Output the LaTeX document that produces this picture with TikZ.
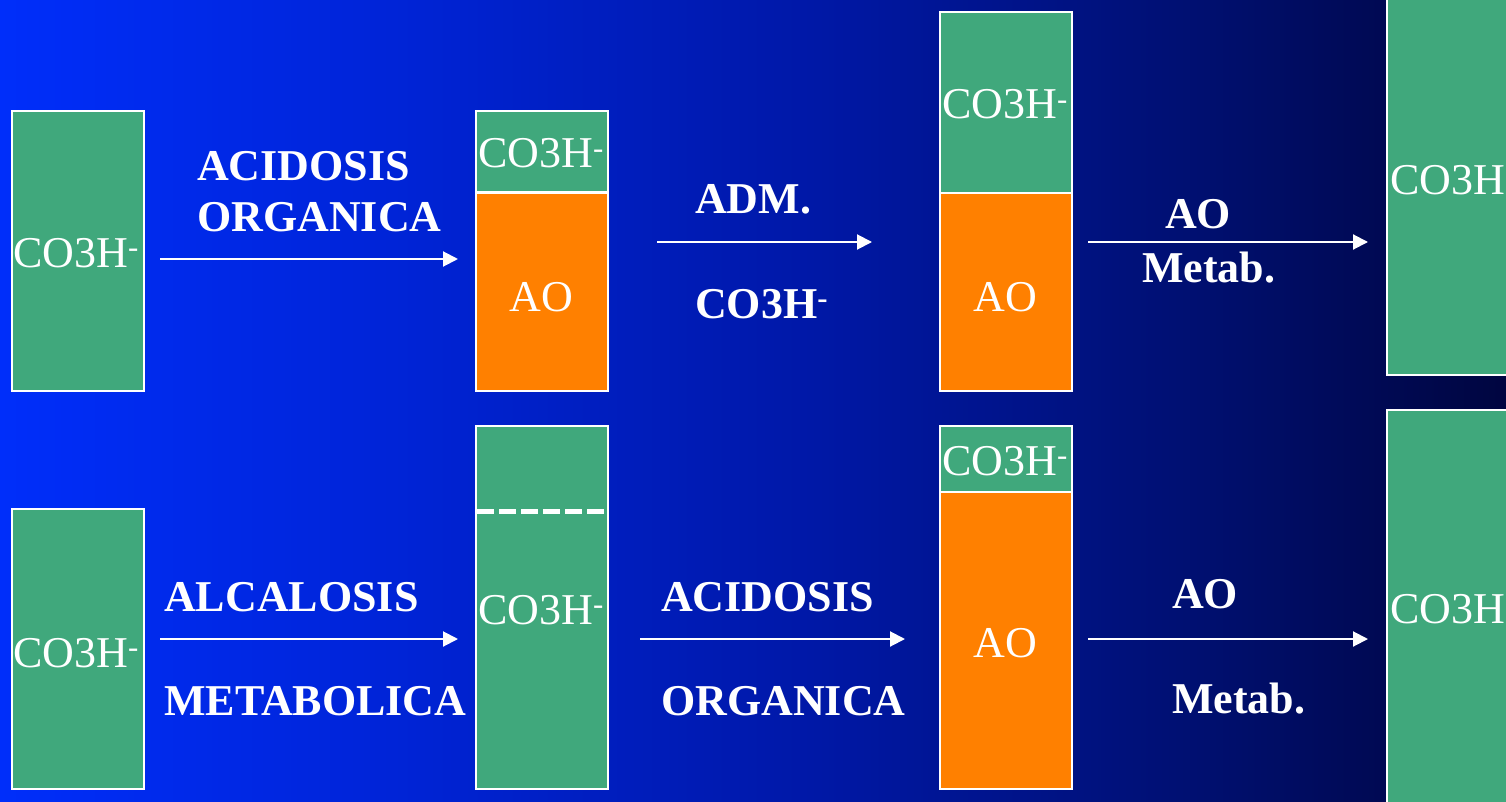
\documentclass[tikz,border=0pt]{standalone}
\usepackage{fontspec}
\setmainfont{Liberation Serif}
\usetikzlibrary{arrows.meta}
\definecolor{boxgreen}{RGB}{64,168,124}
\definecolor{boxorange}{RGB}{255,128,0}
\pgfdeclarehorizontalshading{bgshade}{100bp}{rgb(0bp)=(0,0.18,0.98); rgb(25bp)=(0,0.18,0.98); rgb(38.3bp)=(0,0.14,0.84); rgb(51.6bp)=(0,0.095,0.66); rgb(64.8bp)=(0,0.06,0.44); rgb(75bp)=(0,0.02,0.25); rgb(100bp)=(0,0.02,0.25)}
\newcommand{\bic}{CO3H\textsuperscript{-}}
\begin{document}
\begin{tikzpicture}[x=1pt,y=-1pt,
  box/.style={draw=white, line width=2pt, inner sep=0pt, anchor=north west},
  gbox/.style={box, fill=boxgreen},
  obox/.style={box, fill=boxorange},
  intext/.style={text=white, font=\fontsize{44}{48}\selectfont, inner sep=0pt},
  lab/.style={text=white, font=\fontsize{44}{48}\selectfont\bfseries, inner sep=0pt, anchor=base west},
  arr/.style={draw=white, line width=2pt, -{Triangle[length=15pt,width=15pt]}}]
\useasboundingbox (0,0) rectangle (1506,802);
\clip (0,0) rectangle (1506,802);
\shade[shading=bgshade] (0,0) rectangle (1506,802);

% top row boxes
\node[gbox, minimum width=132pt, minimum height=280pt] (b1) at (11,110) {};
\node[gbox, minimum width=132pt, minimum height=81pt] (b2g) at (475,110) {};
\node[obox, minimum width=132pt, minimum height=198pt] (b2o) at (475,192) {};
\node[gbox, minimum width=132pt, minimum height=181pt] (b3g) at (939,11) {};
\node[obox, minimum width=132pt, minimum height=198pt] (b3o) at (939,192) {};
\node[gbox, minimum width=160pt, minimum height=384pt] (b4) at (1386,-10) {};

% bottom row boxes
\node[gbox, minimum width=132pt, minimum height=280pt] (b5) at (11,508) {};
\node[gbox, minimum width=132pt, minimum height=363pt] (b6) at (475,425) {};
\node[gbox, minimum width=132pt, minimum height=66pt] (b7g) at (939,425) {};
\node[obox, minimum width=132pt, minimum height=297pt] (b7o) at (939,491) {};
\node[gbox, minimum width=160pt, minimum height=420pt] (b8) at (1386,409) {};

% dashed level line
\draw[white, line width=5pt, dash pattern=on 17pt off 5pt] (477,511.5) -- (606,511.5);

% box texts
\node[intext, anchor=base] (t1) at (76,267) {\bic};
\node[intext, anchor=base] (t2) at (541,168) {\bic};
\node[intext, anchor=base] (t3) at (541,311) {AO};
\node[intext, anchor=base] (t4) at (1005,119) {\bic};
\node[intext, anchor=base] (t5) at (1005,311) {AO};
\node[intext, anchor=base west] (t6) at (1390,195) {\bic};
\node[intext, anchor=base] (t7) at (76,667) {\bic};
\node[intext, anchor=base] (t8) at (541,624) {\bic};
\node[intext, anchor=base] (t9) at (1005,475) {\bic};
\node[intext, anchor=base] (t10) at (1005,657) {AO};
\node[intext, anchor=base west] (t11) at (1390,623) {\bic};

% arrow labels
\node[lab] (l1) at (197,181) {ACIDOSIS};
\node[lab] (l2) at (197,232) {ORGANICA};
\node[lab] (l3) at (695,214) {ADM.};
\node[lab] (l4) at (695,318) {\bic};
\node[lab] (l5) at (1165,229) {AO};
\node[lab] (l6) at (1142,282) {Metab.};
\node[lab] (l7) at (164,611) {ALCALOSIS};
\node[lab] (l8) at (164,715) {METABOLICA};
\node[lab] (l9) at (661,611) {ACIDOSIS};
\node[lab] (l10) at (661,715) {ORGANICA};
\node[lab] (l11) at (1172,608) {AO};
\node[lab] (l12) at (1172,713) {Metab.};

% arrows
\coordinate (a1s) at (160,259); \coordinate (a1e) at (458,259);
\coordinate (a2s) at (657,242); \coordinate (a2e) at (872,242);
\coordinate (a3s) at (1088,242); \coordinate (a3e) at (1368,242);
\coordinate (a4s) at (160,639); \coordinate (a4e) at (458,639);
\coordinate (a5s) at (640,639); \coordinate (a5e) at (905,639);
\coordinate (a6s) at (1088,639); \coordinate (a6e) at (1368,639);
\draw[arr] (a1s) -- (a1e);
\draw[arr] (a2s) -- (a2e);
\draw[arr] (a3s) -- (a3e);
\draw[arr] (a4s) -- (a4e);
\draw[arr] (a5s) -- (a5e);
\draw[arr] (a6s) -- (a6e);
\end{tikzpicture}
\end{document}
